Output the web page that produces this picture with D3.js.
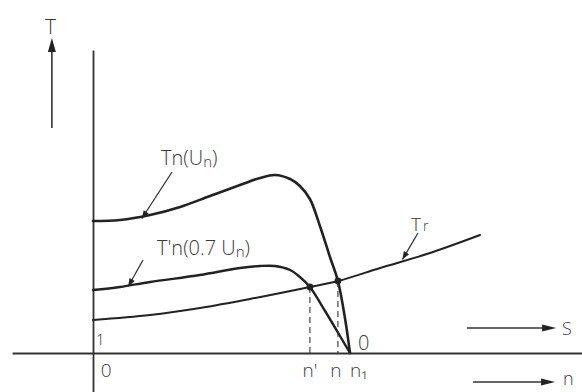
<!DOCTYPE html>
<html>
<head>
<meta charset="utf-8">
<script src="https://cdn.jsdelivr.net/npm/d3@7"></script>
<style>
  html, body { margin: 0; padding: 0; background: #fff; }
  svg { display: block; }
  .lbl { font-family: "Open Sans", "DejaVu Sans", sans-serif; font-weight: 300; fill: #3a3a3a; }
</style>
</head>
<body>
<svg id="chart" width="582" height="392"></svg>
<script>
// Torque–speed characteristics of an induction motor (relative speed n/n1).
// Motor torque at rated voltage Un
const nUpper = [0, 0.105, 0.222, 0.339, 0.455, 0.572, 0.650, 0.708, 0.767, 0.805, 0.844, 0.883, 0.922, 0.953, 0.981, 1.0];
const tUpper = [1.32, 1.33, 1.38, 1.46, 1.57, 1.68, 1.75, 1.78, 1.74, 1.67, 1.54, 1.27, 0.96, 0.72, 0.34, 0];
// Motor torque at reduced voltage 0.7 Un
const nLower = [0, 0.105, 0.222, 0.416, 0.572, 0.650, 0.708, 0.767, 0.805, 0.844, 0.903, 0.961, 1.0];
const tLower = [0.63, 0.66, 0.71, 0.78, 0.85, 0.87, 0.87, 0.83, 0.76, 0.66, 0.42, 0.17, 0];
// Load (resisting) torque Tr
const nLoad = [0, 0.222, 0.416, 0.611, 0.844, 0.953, 1.117, 1.311, 1.506];
const tLoad = [0.33, 0.38, 0.45, 0.54, 0.66, 0.72, 0.85, 1.00, 1.18];
// Operating points (speed, torque): n' at 0.7 Un, n at Un
const opSpeed = [0.844, 0.953];
const opTorque = [0.66, 0.72];
// Axis extents
const nExtent = [-0.315, 1.903];
const tExtent = [-0.39, 3.03];
// Speed labels under the axis, slip labels above it
const speedLabels = ["0", "n'", "n", "n\u2081"];
const speedLabelPos = [0.03, 0.844, 0.953, 1.0];
const slipLabels = ["1", "0"];
const slipLabelPos = [0.0, 1.0];

const svg = d3.select("#chart");
const x = d3.scaleLinear().domain([0, 1]).range([93, 350]);
const y = d3.scaleLinear().domain([0, 1]).range([353, 253]);
const ink = "#222";

// Horizontal axis (speed / slip)
svg.append("g")
  .attr("transform", `translate(0,${y(0)})`)
  .call(d3.axisBottom(x.copy().domain(nExtent).range([x(nExtent[0]), x(nExtent[1])]))
        .tickValues([]).tickSizeOuter(0))
  .call(g => g.select(".domain").attr("stroke", "#333").attr("stroke-width", 1.8));

// Vertical torque axis
svg.append("g")
  .attr("transform", `translate(${x(0)},0)`)
  .call(d3.axisLeft(y.copy().domain(tExtent).range([y(tExtent[0]), y(tExtent[1])]))
        .tickValues([]).tickSizeOuter(0))
  .call(g => g.select(".domain").attr("stroke", "#333").attr("stroke-width", 1.8));

// Separate torque direction arrow with "T"
const tArrowN = -0.16, tArrowFrom = 2.25, tArrowTo = 3.15;
svg.append("line")
  .attr("x1", x(tArrowN)).attr("x2", x(tArrowN))
  .attr("y1", y(tArrowFrom)).attr("y2", y(tArrowTo) + 10)
  .attr("stroke", "#333").attr("stroke-width", 1.6);
svg.append("path")
  .attr("d", `M${x(tArrowN)},${y(tArrowTo)} l-4,14 l8,0 z`)
  .attr("fill", "#222");
svg.append("text").attr("class", "lbl")
  .attr("x", x(tArrowN) - 7).attr("y", 34)
  .attr("font-size", 21).text("T");

// Curves
const line = d3.line().x(d => x(d[0])).y(d => y(d[1])).curve(d3.curveCatmullRom.alpha(0.5));
const curves = [
  { n: nUpper, t: tUpper, w: 2.6 },
  { n: nLower, t: tLower, w: 2.4 },
  { n: nLoad, t: tLoad, w: 2.0 }
];
svg.selectAll("path.curve").data(curves).join("path")
  .attr("class", "curve")
  .attr("d", c => line(c.n.map((v, i) => [v, c.t[i]])))
  .attr("fill", "none").attr("stroke", ink).attr("stroke-width", c => c.w)
  .attr("stroke-linejoin", "round").attr("stroke-linecap", "round");

// Dashed projections of the operating points
svg.selectAll("line.proj").data(opSpeed).join("line")
  .attr("class", "proj")
  .attr("x1", d => x(d)).attr("x2", d => x(d))
  .attr("y1", (d, i) => y(opTorque[i])).attr("y2", y(0))
  .attr("stroke", "#333").attr("stroke-width", 1.1).attr("stroke-dasharray", "6,4");
svg.selectAll("circle.op").data(opSpeed).join("circle")
  .attr("class", "op")
  .attr("cx", d => x(d)).attr("cy", (d, i) => y(opTorque[i]))
  .attr("r", 3.4).attr("fill", "#222");

// Leader lines with arrowheads pointing at the curves
function leader(x1, y1, x2, y2) {
  svg.append("line").attr("x1", x1).attr("y1", y1).attr("x2", x2).attr("y2", y2)
    .attr("stroke", "#333").attr("stroke-width", 1.3);
  const a = Math.atan2(y2 - y1, x2 - x1), L = 8, W = 3;
  const bx = x2 - L * Math.cos(a), by = y2 - L * Math.sin(a);
  svg.append("path")
    .attr("d", `M${x2},${y2} L${bx + W * Math.sin(a)},${by - W * Math.cos(a)} L${bx - W * Math.sin(a)},${by + W * Math.cos(a)} Z`)
    .attr("fill", "#222");
}
leader(172, 172, x(0.19), y(1.365) + 2);
leader(143, 260, x(0.137), y(0.675) + 1);
leader(418, 233, x(1.2) + 1, y(0.915) - 2);

// Curve labels
const tnU = svg.append("text").attr("class", "lbl").attr("x", 161).attr("y", 165).attr("font-size", 20);
tnU.append("tspan").text("Tn(U");
tnU.append("tspan").attr("font-size", 15).attr("dy", 2).text("n");
tnU.append("tspan").attr("dy", -2).text(")");

const tn07 = svg.append("text").attr("class", "lbl").attr("x", 157).attr("y", 255).attr("font-size", 20);
tn07.append("tspan").text("T'n(0.7 U");
tn07.append("tspan").attr("font-size", 15).attr("dy", 2).text("n");
tn07.append("tspan").attr("dy", -2).text(")");

const tr = svg.append("text").attr("class", "lbl").attr("x", 411).attr("y", 231).attr("font-size", 19);
tr.append("tspan").text("T");
tr.append("tspan").attr("font-size", 14).attr("dx", 2).text("r");

// Speed labels below axis
svg.selectAll("text.sp").data(speedLabels).join("text")
  .attr("class", "lbl sp")
  .attr("x", (d, i) => x(speedLabelPos[i]) + (i === 2 ? -2 : 0))
  .attr("y", 377)
  .attr("text-anchor", (d, i) => i === 0 ? "start" : (i === 3 ? "start" : "middle"))
  .attr("font-size", 19)
  .text(d => d);

// Slip labels above axis
svg.selectAll("text.sl").data(slipLabels).join("text")
  .attr("class", "lbl sl")
  .attr("x", (d, i) => x(slipLabelPos[i]) + (i === 0 ? 3 : 8))
  .attr("y", (d, i) => i === 0 ? 345 : 350)
  .attr("font-size", (d, i) => i === 0 ? 15 : 20)
  .text(d => d);

// Direction arrows for slip S and speed n
const dirArrows = [
  { from: 1.455, to: 1.802, t: 0.25, label: "S", gap: 6, dy: 7 },
  { from: 1.479, to: 1.798, t: -0.29, label: "n", gap: 8, dy: 3 }
];
dirArrows.forEach(a => {
  const yy = y(a.t), xe = x(a.to);
  svg.append("line").attr("x1", x(a.from)).attr("x2", xe - 10).attr("y1", yy).attr("y2", yy)
    .attr("stroke", "#333").attr("stroke-width", 1.4);
  svg.append("path").attr("d", `M${xe},${yy} l-14,-3.5 l0,7 z`).attr("fill", "#222");
  svg.append("text").attr("class", "lbl").attr("x", xe + a.gap).attr("y", yy + a.dy)
    .attr("font-size", 18).text(a.label);
});
</script>
</body>
</html>
